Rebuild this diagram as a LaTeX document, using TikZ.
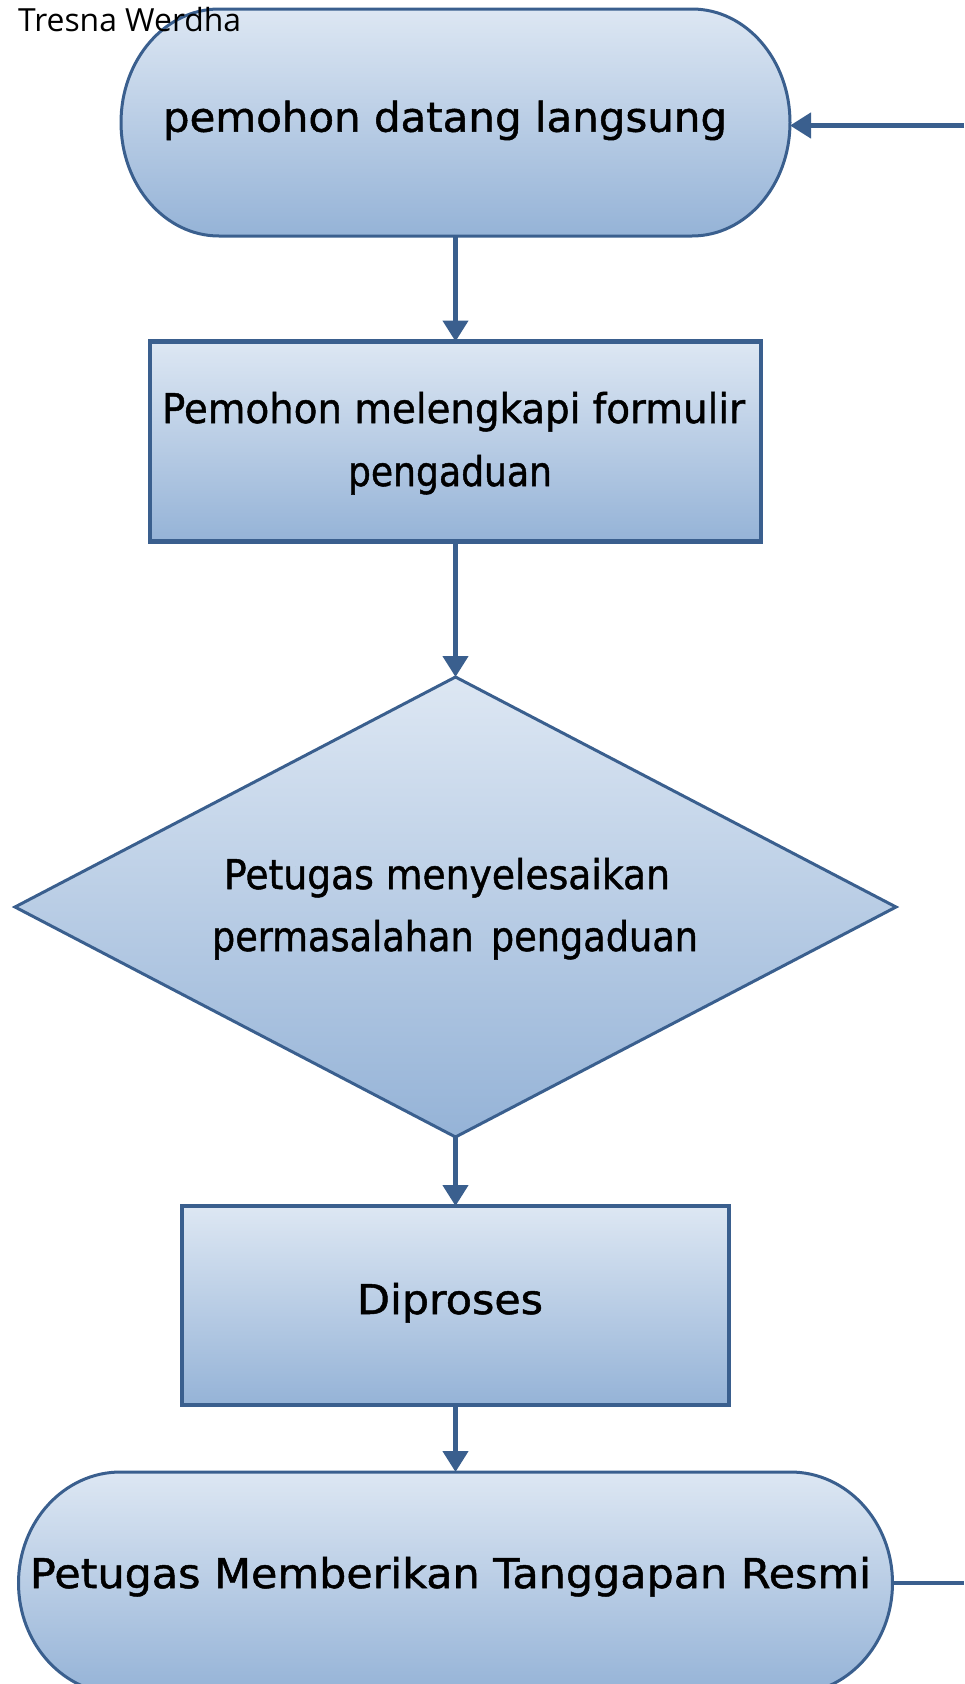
\documentclass[tikz,border=0pt]{standalone}
\usepackage{fontspec}
\setmainfont{DejaVu Sans}[FakeBold=1.2]
\newfontfamily\lblfont{DejaVu Sans}[FakeBold=1.2]
\newfontfamily\hdrfont{Open Sans}
\usetikzlibrary{shapes.geometric,arrows.meta}
\definecolor{bord}{RGB}{58,95,142}
\definecolor{ftop}{RGB}{221,231,243}
\definecolor{fbot}{RGB}{149,179,215}
\begin{document}
\begin{tikzpicture}[x=1pt,y=1pt,
  bx/.style={draw=bord, line width=4.5pt, top color=ftop, bottom color=fbot, rectangle, inner sep=0pt, outer sep=0pt},
  dm/.style={draw=bord, line width=3pt, top color=ftop, bottom color=fbot, diamond, inner sep=0pt, outer sep=0pt},
  term/.style={draw=bord, line width=3pt, top color=ftop, bottom color=fbot},
  anc/.style={rectangle, inner sep=0pt, outer sep=0pt},
  lbl/.style={inner sep=0pt, outer sep=0pt, font=\lblfont\fontsize{41}{49}\selectfont, text=black, anchor=base},
  conn/.style={draw=bord, line width=4.5pt, -{Triangle[width=25pt,length=21pt]}},
  plain/.style={draw=bord, line width=4.5pt},
]
\useasboundingbox (0,0) rectangle (964,-1684);

% top terminator
\path[term] (219,-9) -- (692,-9)
  arc[start angle=90,end angle=-90,x radius=98pt,y radius=113.5pt]
  -- (219,-236)
  arc[start angle=270,end angle=90,x radius=98pt,y radius=113.5pt] -- cycle;
\node[anc, minimum width=669pt, minimum height=227pt] (t1) at (455.5,-122.5) {};

% box 1
\node[bx, minimum width=611pt, minimum height=200pt] (b1) at (455.5,-441.5) {};

% decision
\node[dm, minimum width=881pt, minimum height=460pt] (d1) at (455.5,-907) {};

% box 2
\node[bx, minimum width=547pt, minimum height=199pt] (b2) at (455.5,-1305.5) {};

% bottom terminator
\path[term] (120.5,-1472) -- (790.5,-1472)
  arc[start angle=90,end angle=-90,x radius=102pt,y radius=111pt]
  -- (120.5,-1694)
  arc[start angle=270,end angle=90,x radius=102pt,y radius=111pt] -- cycle;
\node[anc, minimum width=874pt, minimum height=222pt] (t2) at (455.5,-1583) {};

% labels
\node[lbl] (t1l) at (445,-131.7) {\resizebox{564pt}{\height}{pemohon datang langsung}};
\node[lbl] (b1l1) at (453.5,-423) {\resizebox{583pt}{\height}{Pemohon melengkapi formulir}};
\node[lbl] (b1l2) at (450,-486) {\resizebox{204pt}{\height}{pengaduan}};
\node[lbl] (d1l1) at (447,-889) {\resizebox{446pt}{\height}{Petugas menyelesaikan}};
\node[lbl] (d1l2) at (455,-951) {\resizebox{486pt}{\height}{permasalahan\hspace{0.15em} pengaduan}};
\node[lbl] (b2l) at (450,-1314) {\resizebox{186pt}{\height}{Diproses}};
\node[lbl] (t2l) at (450.5,-1588) {\resizebox{841pt}{\height}{Petugas Memberikan Tanggapan Resmi}};

% header
\node[inner sep=0pt, anchor=base west, font=\hdrfont\fontsize{30}{36}\selectfont] (hdr) at (18,-31.5) {\resizebox{223pt}{!}{Tresna Werdha}};

% connectors
\draw[conn] (t1.south) -- (b1.north);
\draw[conn] (b1.south) -- (d1.north);
\draw[conn] (d1.south) -- (b2.north);
\draw[conn] (b2.south) -- (t2.north);
\coordinate (r1) at (964,-125.5);
\draw[conn] (r1) -- (r1 -| t1.east);
\coordinate (r2) at (964,-1583);
\draw[plain] (t2.east) -- (r2);
\end{tikzpicture}
\end{document}
